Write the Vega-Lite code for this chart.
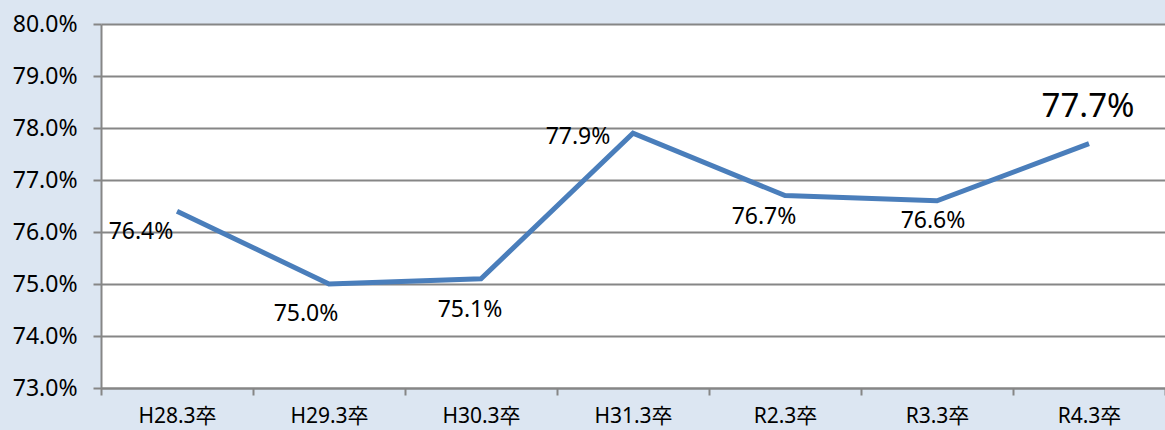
{
  "$schema": "https://vega.github.io/schema/vega-lite/v6.json",
  "width": 1064,
  "height": 364,
  "autosize": {"type": "none"},
  "padding": {"left": 101, "top": 24, "right": 0, "bottom": 42},
  "background": "#dce6f2",
  "config": {
    "view": {"fill": "white", "stroke": null},
    "font": "Noto Sans, Noto Sans CJK JP"
  },
  "data": {
    "values": [
      {"year": "H28.3卒", "rate": 0.764},
      {"year": "H29.3卒", "rate": 0.750},
      {"year": "H30.3卒", "rate": 0.751},
      {"year": "H31.3卒", "rate": 0.779},
      {"year": "R2.3卒", "rate": 0.767},
      {"year": "R3.3卒", "rate": 0.766},
      {"year": "R4.3卒", "rate": 0.777}
    ]
  },
  "encoding": {
    "x": {
      "field": "year", "type": "nominal", "sort": null,
      "scale": {"paddingInner": 0, "paddingOuter": 0},
      "axis": {
        "title": null, "labelAngle": 0, "labelFontSize": 21, "labelColor": "#000000",
        "labelFont": "Noto Sans, Noto Sans CJK JP",
        "labelPadding": 10, "tickSize": 7, "tickColor": "#868686", "tickWidth": 2,
        "tickBand": "extent", "domainColor": "#868686", "domainWidth": 2, "grid": false
      }
    },
    "y": {
      "field": "rate", "type": "quantitative",
      "scale": {"domain": [0.73, 0.80], "nice": false, "zero": false},
      "axis": {
        "title": null, "format": ".1%", "values": [0.73, 0.74, 0.75, 0.76, 0.77, 0.78, 0.79, 0.80],
        "labelFontSize": 23, "labelColor": "#000000", "labelPadding": 16,
        "tickSize": 8, "tickColor": "#868686", "tickWidth": 2,
        "domainColor": "#868686", "domainWidth": 2,
        "grid": true, "gridColor": "#868686", "gridWidth": 2
      }
    }
  },
  "layer": [
    {"mark": {"type": "line", "color": "#4a7ebb", "strokeWidth": 5}},
    {"transform": [{"filter": "datum.year == 'H28.3卒'"}], "mark": {"type": "text", "fontSize": 23, "dx": -36, "dy": 21}, "encoding": {"text": {"field": "rate", "format": ".1%"}}},
    {"transform": [{"filter": "datum.year == 'H29.3卒'"}], "mark": {"type": "text", "fontSize": 23, "dx": -23, "dy": 30}, "encoding": {"text": {"field": "rate", "format": ".1%"}}},
    {"transform": [{"filter": "datum.year == 'H30.3卒'"}], "mark": {"type": "text", "fontSize": 23, "dx": -11, "dy": 31}, "encoding": {"text": {"field": "rate", "format": ".1%"}}},
    {"transform": [{"filter": "datum.year == 'H31.3卒'"}], "mark": {"type": "text", "fontSize": 23, "dx": -55, "dy": 4}, "encoding": {"text": {"field": "rate", "format": ".1%"}}},
    {"transform": [{"filter": "datum.year == 'R2.3卒'"}], "mark": {"type": "text", "fontSize": 23, "dx": -21, "dy": 21}, "encoding": {"text": {"field": "rate", "format": ".1%"}}},
    {"transform": [{"filter": "datum.year == 'R3.3卒'"}], "mark": {"type": "text", "fontSize": 23, "dx": -4, "dy": 20}, "encoding": {"text": {"field": "rate", "format": ".1%"}}},
    {"transform": [{"filter": "datum.year == 'R4.3卒'"}], "mark": {"type": "text", "fontSize": 33, "dx": -1, "dy": -37}, "encoding": {"text": {"field": "rate", "format": ".1%"}}}
  ]
}
